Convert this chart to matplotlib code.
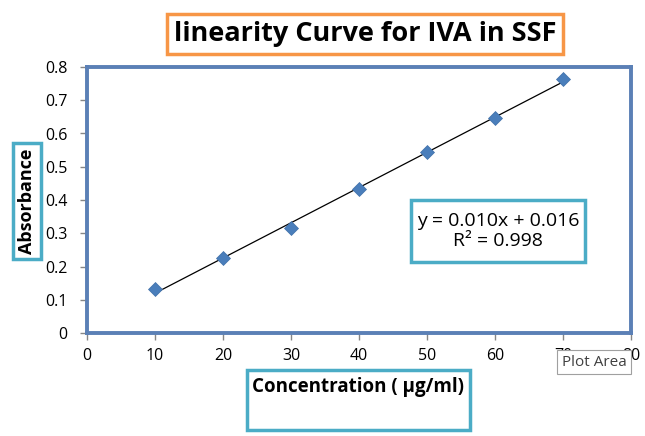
import numpy as np
import matplotlib.pyplot as plt
from matplotlib.patches import Rectangle

conc = [10, 20, 30, 40, 50, 60, 70]
absorb = [0.132, 0.226, 0.316, 0.433, 0.544, 0.647, 0.764]
xticks = [0, 10, 20, 30, 40, 50, 60, 70, 80]
yticks = [0, 0.1, 0.2, 0.3, 0.4, 0.5, 0.6, 0.7, 0.8]
eq_text = 'y = 0.010x + 0.016\nR\u00b2 = 0.998'

plt.rcParams['font.family'] = ['Open Sans', 'DejaVu Sans']

fig = plt.figure(figsize=(6.45, 4.36), dpi=100)
ax = fig.add_axes([87/645, 1-333/436, (631-87)/645, (333-67)/436])

# trendline
m, b = np.polyfit(conc, absorb, 1)
xs = np.array([conc[0], conc[-1]])
ax.plot(xs, m*xs + b, color='black', lw=0.9, zorder=2)
ax.plot(conc, absorb, 'D', color='#4A7EBB', markersize=7, markeredgecolor='#3F6FA8',
        markeredgewidth=0.5, zorder=3, clip_on=False)

ax.set_xlim(0, 80)
ax.set_ylim(0, 0.8)
ax.set_xticks(xticks)
ax.set_yticks(yticks)
ax.set_yticklabels(['0' if v == 0 else f'{v:.1f}' for v in yticks])
ax.tick_params(labelsize=11.5, color='#868686', length=5, width=1)
ax.tick_params(axis='y', pad=9)
ax.tick_params(axis='x', pad=6)
for s in ax.spines.values():
    s.set_color('#5B80B6')
    s.set_linewidth(2.8)

# title box
fig.text(365/645, 1-34/436, 'linearity Curve for IVA in SSF', ha='center', va='center',
         fontsize=19.5, fontweight='bold',
         bbox=dict(boxstyle='square,pad=0.25', fc='white', ec='#F79646', lw=2.5))

# y label box
fig.text(27/645, 1-201/436, 'Absorbance', rotation=90, ha='center', va='center',
         fontsize=13, fontweight='bold',
         bbox=dict(boxstyle='square,pad=0.3', fc='white', ec='#4BACC6', lw=2.5))

# x label box
fig.patches.append(Rectangle((247/645, 1-430/436), (470-247)/645, (430-370)/436,
                             transform=fig.transFigure, fc='white', ec='#4BACC6', lw=2.5))
fig.text(358/645, 1-387/436, 'Concentration ( \u00b5g/ml)', ha='center', va='center',
         fontsize=13.5, fontweight='bold')

# equation box
fig.patches.append(Rectangle((411/645, 1-262/436), (585-411)/645, (262-200)/436,
                             transform=fig.transFigure, fc='white', ec='#4BACC6', lw=2.5, zorder=5))
fig.text(498/645, 1-231/436, eq_text, ha='center', va='center',
         fontsize=14, linespacing=1.15, zorder=6)

# tooltip
fig.text(594/645, 1-362/436, 'Plot Area', ha='center', va='center', fontsize=11, color='#404040',
         zorder=7, bbox=dict(boxstyle='square,pad=0.3', fc='white', ec='#A0A0A0', lw=0.8))

fig.savefig('out.png', dpi=100)
